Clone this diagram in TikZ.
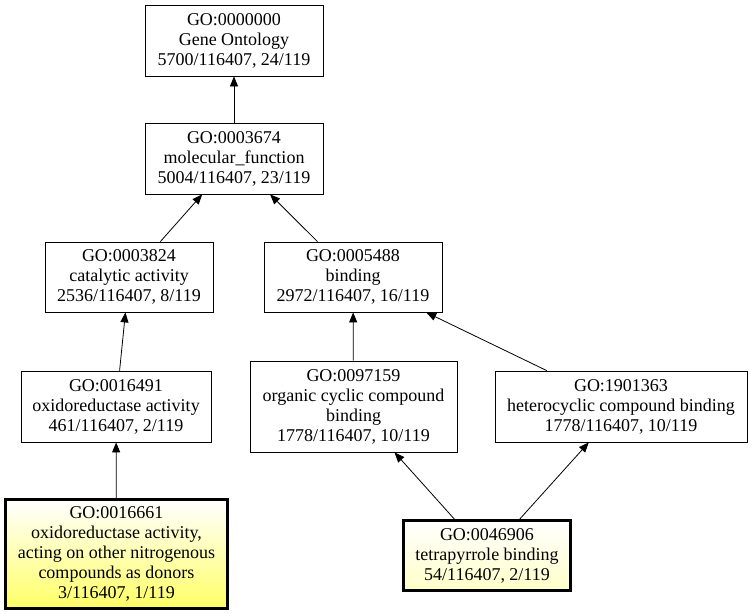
\documentclass[tikz,border=0pt]{standalone}
\usepackage{fontspec}
\setmainfont{Liberation Serif}
\usetikzlibrary{arrows.meta,positioning,calc}

\begin{document}
\begin{tikzpicture}[x=1pt,y=-1pt,
	every node/.style={draw,align=center,inner sep=0pt,font=\fontsize{18}{20}\selectfont},
	goterm/.style={line width=0.8pt},
	hitterm/.style={line width=3pt},
	isa/.style={-{Triangle[length=10pt,width=8pt]},line width=0.8pt}]
		\useasboundingbox (0,0) rectangle (753,616);
		
		\node[goterm,minimum width=178pt,minimum height=71pt] (n0000000) at (234,40.5)
			{GO:0000000\\Gene Ontology\\5700/116407, 24/119};
		\node[goterm,minimum width=178pt,minimum height=71pt] (n0003674) at (234,158.5)
			{GO:0003674\\molecular\_function\\5004/116407, 23/119};
		\node[goterm,minimum width=168pt,minimum height=70pt] (n0003824) at (129,277)
			{GO:0003824\\catalytic activity\\2536/116407, 8/119};
		\node[goterm,minimum width=178pt,minimum height=70pt] (n0005488) at (353,277)
			{GO:0005488\\binding\\2972/116407, 16/119};
		\node[goterm,minimum width=190pt,minimum height=71pt] (n0016491) at (116,406.5)
			{GO:0016491\\oxidoreductase activity\\461/116407, 2/119};
		\node[goterm,minimum width=207pt,minimum height=91pt] (n0097159) at (353.5,406.5)
			{GO:0097159\\organic cyclic compound\\binding\\1778/116407, 10/119};
		\node[goterm,minimum width=252pt,minimum height=71pt] (n1901363) at (621,406.5)
			{GO:1901363\\heterocyclic compound binding\\1778/116407, 10/119};
		
		\node[hitterm,top color=white,bottom color={rgb,255:red,255;green,255;blue,102},
			minimum width=222pt,minimum height=109pt] (n0016661) at (116.5,554)
			{GO:0016661\\oxidoreductase activity,\\acting on other nitrogenous\\compounds as donors\\3/116407, 1/119};
		\node[hitterm,top color=white,bottom color={rgb,255:red,255;green,255;blue,200},
			minimum width=167pt,minimum height=70pt] (n0046906) at (487,555.5)
			{GO:0046906\\tetrapyrrole binding\\54/116407, 2/119};
		
		\draw[isa](n0003674)--(n0000000);
		\draw[isa](n0003824)--(n0003674);
		\draw[isa](n0005488)--(n0003674);
		\draw[isa](n0016491)--(n0003824);
		\draw[isa](n0097159)--(n0005488);
		\draw[isa](n1901363)--(n0005488);
		\draw[isa](n0016661)--(n0016491);
		\draw[isa](n0046906)--(n0097159);
		\draw[isa](n0046906)--(n1901363);
	\end{tikzpicture}
\end{document}
